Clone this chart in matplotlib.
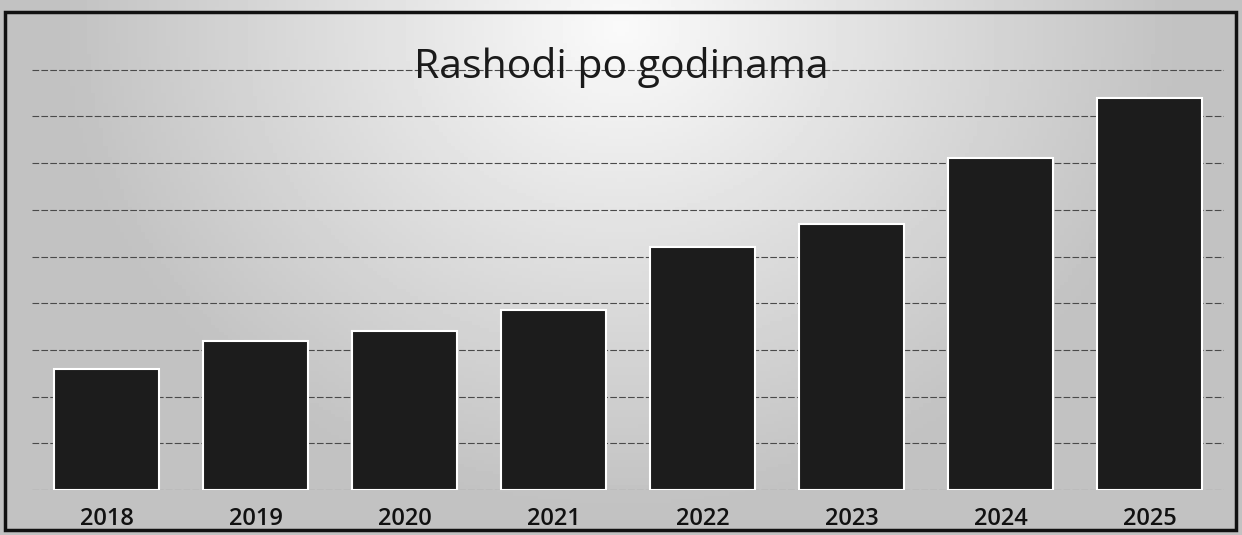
import numpy as np
import matplotlib.pyplot as plt
from matplotlib.patches import Rectangle

# chart data (no value axis printed, heights read in grid steps)
godine = ['2018', '2019', '2020', '2021', '2022', '2023', '2024', '2025']
rashodi = [2.6, 3.2, 3.4, 3.85, 5.2, 5.7, 7.1, 8.4]
naslov = 'Rashodi po godinama'

fig = plt.figure(figsize=(12.42, 5.35), dpi=100)
fig.patch.set_facecolor('#c4c4c4')

# light patch behind the title, grey towards the edges (scan look)
bg = fig.add_axes([0, 0, 1, 1], zorder=0)
gx, gy = np.meshgrid(np.linspace(-1, 1, 300), np.linspace(0, 1, 150))
shade = np.clip(np.sqrt((gx / 0.9) ** 2 + ((0.95 - gy) / 0.9) ** 2), 0, 1)
bg.imshow(0.98 - 0.22 * shade, cmap='gray', vmin=0, vmax=1, aspect='auto',
          extent=[0, 1, 0, 1], origin='lower')
bg.axis('off')

ax = fig.add_axes([32 / 1242, 45 / 535, 1192 / 1242, 467 / 535], zorder=1)
ax.patch.set_alpha(0)

x = np.arange(len(godine))
ax.bar(x, rashodi, width=0.71, color='#1c1c1c', edgecolor='white',
       linewidth=1.5, zorder=3)

ax.set_xlim(-0.5, 7.5)
ax.set_ylim(0, 10)
ax.set_yticks(np.arange(0, 10, 1))
ax.yaxis.grid(True, color='#4a4a4a', linewidth=0.8, linestyle=(0, (6, 2)), zorder=1)
ax.set_yticklabels([])
ax.tick_params(axis='y', length=0)
ax.set_xticks(x)
ax.set_xticklabels(godine, fontsize=17, fontweight='semibold',
                   family=['Open Sans', 'DejaVu Sans'], color='#111111')
ax.tick_params(axis='x', length=0, pad=12)
for s in ax.spines.values():
    s.set_visible(False)

fig.text(0.5, 1 - 68 / 535, naslov, ha='center', va='center', fontsize=29.5,
         family=['Open Sans', 'DejaVu Sans'], color='#1a1a1a', zorder=2)

# black frame of the copied page
fig.patches.append(Rectangle((5 / 1242, 5 / 535), 1231 / 1242, 518 / 535,
                             transform=fig.transFigure, fill=False,
                             edgecolor='#111111', linewidth=2.5, zorder=3))

fig.savefig('out.png', dpi=100, facecolor=fig.get_facecolor())
